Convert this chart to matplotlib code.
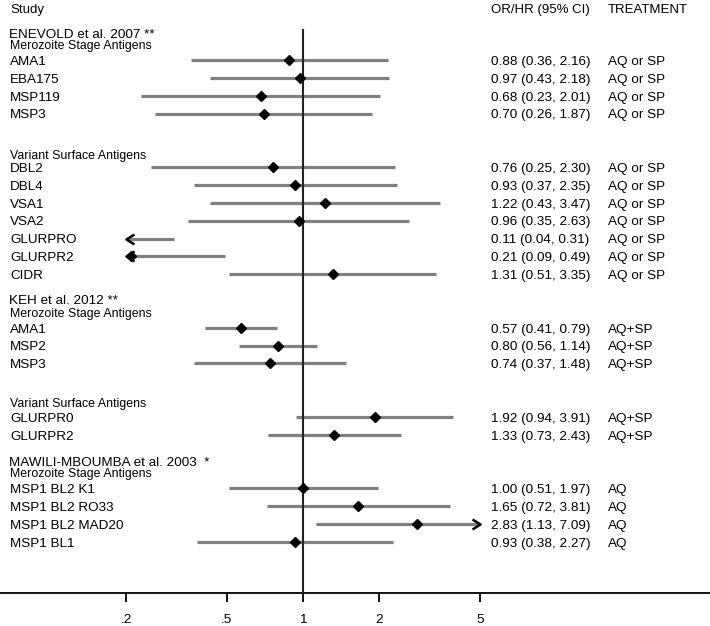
import numpy as np
import matplotlib
matplotlib.use("Agg")
import matplotlib.pyplot as plt
from matplotlib.path import Path
from matplotlib.transforms import blended_transform_factory

plt.rcParams['font.family'] = ['Liberation Sans', 'DejaVu Sans']

# ---------------- data ----------------
labels = ["AMA1", "EBA175", "MSP119", "MSP3",
          "DBL2", "DBL4", "VSA1", "VSA2", "GLURPRO", "GLURPR2", "CIDR",
          "AMA1", "MSP2", "MSP3",
          "GLURPR0", "GLURPR2",
          "MSP1 BL2 K1", "MSP1 BL2 RO33", "MSP1 BL2 MAD20", "MSP1 BL1"]
est = [0.88, 0.97, 0.68, 0.70,
       0.76, 0.93, 1.22, 0.96, 0.11, 0.21, 1.31,
       0.57, 0.80, 0.74,
       1.92, 1.33,
       1.00, 1.65, 2.83, 0.93]
lo = [0.36, 0.43, 0.23, 0.26,
      0.25, 0.37, 0.43, 0.35, 0.04, 0.09, 0.51,
      0.41, 0.56, 0.37,
      0.94, 0.73,
      0.51, 0.72, 1.13, 0.38]
hi = [2.16, 2.18, 2.01, 1.87,
      2.30, 2.35, 3.47, 2.63, 0.31, 0.49, 3.35,
      0.79, 1.14, 1.48,
      3.91, 2.43,
      1.97, 3.81, 7.09, 2.27]
treatment = ["AQ or SP", "AQ or SP", "AQ or SP", "AQ or SP",
             "AQ or SP", "AQ or SP", "AQ or SP", "AQ or SP", "AQ or SP", "AQ or SP", "AQ or SP",
             "AQ+SP", "AQ+SP", "AQ+SP",
             "AQ+SP", "AQ+SP",
             "AQ", "AQ", "AQ", "AQ"]
studies = ["ENEVOLD et al. 2007 **", "KEH et al. 2012 **", "MAWILI-MBOUMBA et al. 2003  *"]
subgroups = ["Merozoite Stage Antigens", "Variant Surface Antigens",
             "Merozoite Stage Antigens", "Variant Surface Antigens",
             "Merozoite Stage Antigens"]
xticks = [0.2, 0.5, 1, 2, 5]
xticklabels = [".2", ".5", "1", "2", "5"]

# ---------------- layout ----------------
W, H = 710, 626
row_idx = [0, 1, 2, 3, 6, 7, 8, 9, 10, 11, 12, 15, 16, 17, 20, 21, 24, 25, 26, 27]
row_y = [60 + 17.85 * r for r in row_idx]
study_y = [33, 299, 461]
subgroup_y = [45, 155, 313, 403, 473]
clip_lo, clip_hi = 0.2, 5.0
x_one_px = 303
px_per_dec = 253.2

fig = plt.figure(figsize=(W / 100, H / 100), dpi=100)
axis_px = 593
ax = fig.add_axes([0, (H - axis_px) / H, 1, axis_px / H])
ax.set_xscale('log')
ax.set_xlim(10 ** (-x_one_px / px_per_dec), 10 ** ((W - x_one_px) / px_per_dec))
ax.set_ylim(axis_px, 0)

for s in ['left', 'top', 'right']:
    ax.spines[s].set_visible(False)
ax.spines['bottom'].set_linewidth(1.3)
ax.spines['bottom'].set_color('black')
ax.set_yticks([])
ax.set_xticks(xticks)
ax.set_xticklabels(xticklabels)
ax.minorticks_off()
ax.tick_params(axis='x', which='major', length=6.5, width=1.3, pad=8.5,
               labelsize=9.7, color='black')

ci_color = '#808080'
# null line
ax.vlines(1, 29, axis_px, color='#222222', lw=1.5, zorder=3)

left_arrow = Path([(1.6, 1), (0, 0), (1.6, -1)], [Path.MOVETO, Path.LINETO, Path.LINETO])
right_arrow = Path([(-1.6, 1), (0, 0), (-1.6, -1)], [Path.MOVETO, Path.LINETO, Path.LINETO])

for e, l, h, y in zip(est, lo, hi, row_y):
    cl, ch = max(l, clip_lo), min(h, clip_hi)
    ax.plot([cl, ch], [y, y], color=ci_color, lw=2.3, solid_capstyle='butt', zorder=2)
    if l < clip_lo:
        ax.plot([clip_lo], [y], marker=left_arrow, ms=11.5, mec='black', mfc='none',
                mew=1.8, zorder=4)
    if h > clip_hi:
        ax.plot([clip_hi], [y], marker=right_arrow, ms=11.5, mec='black', mfc='none',
                mew=1.8, zorder=4)
    if clip_lo <= e <= clip_hi:
        ax.plot([e], [y], marker='D', ms=5.5, color='black', zorder=5)

tr = blended_transform_factory(ax.transAxes, ax.transData)
fs = 9.7

def tx(px, y, s, size=fs):
    # y is the visual centre of capitals; place baseline half a cap-height below
    cap = 0.716 * size * 100 / 72
    ax.text(px / W, y + cap / 2, s, transform=tr, fontsize=size, va='baseline',
            ha='left', color='black')

tx(10, 8, "Study", 9.5)
tx(491, 8, "OR/HR (95% CI)", 9.5)
tx(608, 8, "TREATMENT", 9.5)

for s, y in zip(studies, study_y):
    tx(9, y, s)
for s, y in zip(subgroups, subgroup_y):
    tx(10, y, s, 8.9)
for lab, e, l, h, t, y in zip(labels, est, lo, hi, treatment, row_y):
    tx(10, y, lab)
    tx(491, y, f"{e:.2f} ({l:.2f}, {h:.2f})")
    tx(608, y, t)

fig.savefig("out.png", dpi=100)
